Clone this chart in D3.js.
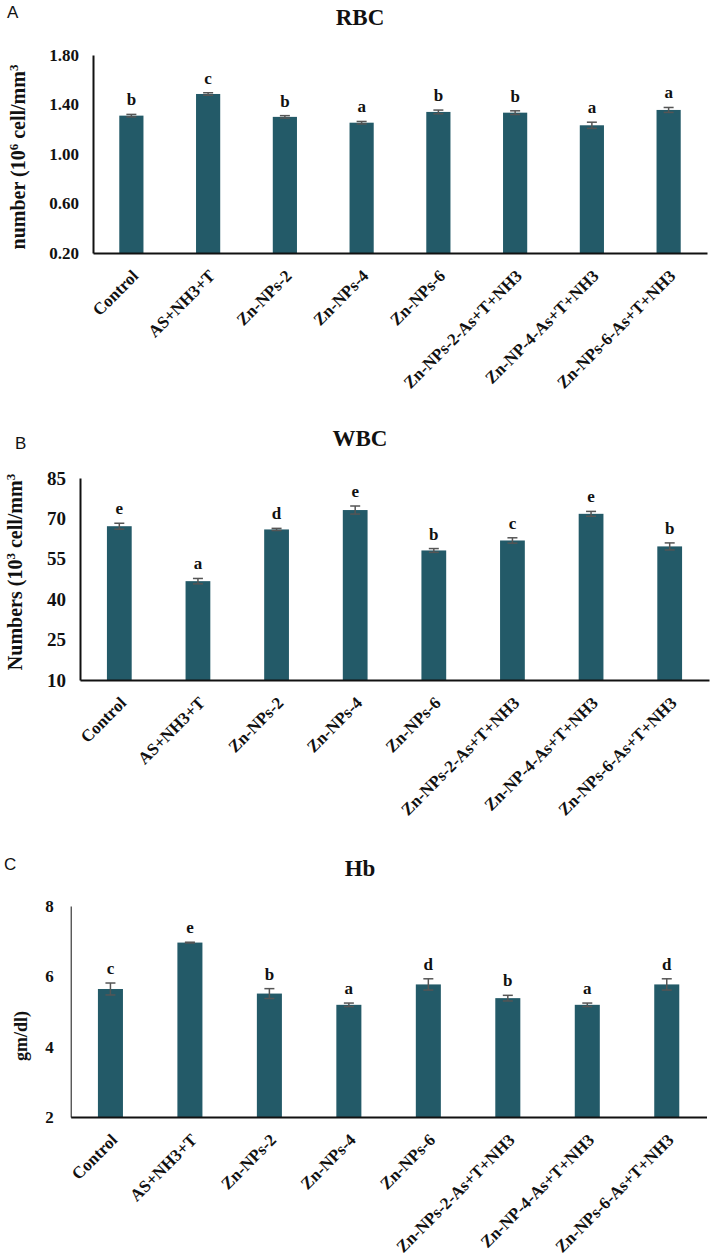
<!DOCTYPE html>
<html>
<head>
<meta charset="utf-8">
<script src="https://cdn.jsdelivr.net/npm/d3@7"></script>
<style>
  html, body { margin: 0; padding: 0; background: #fff; }
  svg { display: block; }
  .serif { font-family: "Liberation Serif", "Times New Roman", serif; font-weight: bold; }
</style>
</head>
<body>
<svg id="chart" width="712" height="1258"></svg>
<script>
const categories = ["Control", "AS+NH3+T", "Zn-NPs-2", "Zn-NPs-4", "Zn-NPs-6",
  "Zn-NPs-2-As+T+NH3", "Zn-NP-4-As+T+NH3", "Zn-NPs-6-As+T+NH3"];

const rbcMean = [1.31, 1.485, 1.30, 1.253, 1.34, 1.334, 1.232, 1.356];
const rbcErr = [0.01, 0.01, 0.01, 0.01, 0.015, 0.015, 0.025, 0.02];
const rbcLetters = ["b", "c", "b", "a", "b", "b", "a", "a"];
const rbcTicks = [0.20, 0.60, 1.00, 1.40, 1.80];

const wbcMean = [67.1, 46.7, 65.9, 73.1, 58.1, 61.8, 71.7, 59.6];
const wbcErr = [1.1, 1.0, 0.4, 1.5, 0.7, 1.0, 0.9, 1.3];
const wbcLetters = ["e", "a", "d", "e", "b", "c", "e", "b"];
const wbcTicks = [10, 25, 40, 55, 70, 85];

const hbMean = [5.64, 6.96, 5.51, 5.19, 5.77, 5.38, 5.19, 5.77];
const hbErr = [0.17, 0.01, 0.14, 0.05, 0.16, 0.08, 0.05, 0.16];
const hbLetters = ["c", "e", "b", "a", "d", "b", "a", "d"];
const hbTicks = [2, 4, 6, 8];

const svg = d3.select("#chart");
const barColor = "#235a68";
const errColor = "#555555";

function panel(cfg) {
  const g = svg.append("g");
  const x = d3.scaleBand().domain(categories)
    .range([cfg.x0, cfg.x1]).paddingInner(0.685).paddingOuter(0.3425);
  const y = d3.scaleLinear().domain(cfg.domain).range([cfg.yb, cfg.yt]);

  // panel letter
  g.append("text").attr("x", cfg.lx).attr("y", cfg.ly)
    .attr("font-family", "'Liberation Sans', Arial, sans-serif")
    .attr("font-size", 17).attr("fill", "#111").text(cfg.letter);

  // title
  g.append("text").attr("class", "serif").attr("x", 360).attr("y", cfg.ty)
    .attr("text-anchor", "middle").attr("font-size", 23).attr("fill", "#111")
    .text(cfg.title);

  // bars
  g.selectAll("rect.bar").data(cfg.mean).enter().append("rect")
    .attr("x", (d, i) => x(categories[i]))
    .attr("width", x.bandwidth())
    .attr("y", d => y(d))
    .attr("height", d => y(cfg.domain[0]) - y(d))
    .attr("fill", barColor);

  // error bars
  const eb = g.selectAll("g.err").data(cfg.mean).enter().append("g")
    .attr("stroke", errColor).attr("stroke-width", 1.5);
  eb.append("line")
    .attr("x1", (d, i) => x(categories[i]) + x.bandwidth() / 2)
    .attr("x2", (d, i) => x(categories[i]) + x.bandwidth() / 2)
    .attr("y1", (d, i) => y(d + cfg.err[i]))
    .attr("y2", (d, i) => y(d - cfg.err[i]));
  eb.append("line")
    .attr("x1", (d, i) => x(categories[i]) + x.bandwidth() / 2 - 5)
    .attr("x2", (d, i) => x(categories[i]) + x.bandwidth() / 2 + 5)
    .attr("y1", (d, i) => y(d + cfg.err[i]))
    .attr("y2", (d, i) => y(d + cfg.err[i]));
  eb.append("line")
    .attr("x1", (d, i) => x(categories[i]) + x.bandwidth() / 2 - 5)
    .attr("x2", (d, i) => x(categories[i]) + x.bandwidth() / 2 + 5)
    .attr("y1", (d, i) => y(d - cfg.err[i]))
    .attr("y2", (d, i) => y(d - cfg.err[i]));

  // significance letters
  g.selectAll("text.sig").data(cfg.letters).enter().append("text")
    .attr("class", "serif")
    .attr("x", (d, i) => x(categories[i]) + x.bandwidth() / 2)
    .attr("y", (d, i) => y(cfg.mean[i] + cfg.err[i]) - 9)
    .attr("text-anchor", "middle").attr("font-size", 17).attr("fill", "#111")
    .text(d => d);

  // y axis
  const yAxis = d3.axisLeft(y).tickValues(cfg.ticks).tickSize(0).tickPadding(cfg.tickPad)
    .tickFormat(cfg.fmt);
  const ya = g.append("g").attr("transform", `translate(${cfg.x0},0)`).call(yAxis);
  ya.select(".domain").attr("stroke", "#111").attr("stroke-width", cfg.yw);
  ya.selectAll("text").attr("class", "serif").attr("font-size", cfg.tickFs)
    .attr("fill", "#111");

  // x axis
  const xAxis = d3.axisBottom(x).tickSize(0).tickFormat(() => "");
  const xa = g.append("g").attr("transform", `translate(0,${cfg.yb})`).call(xAxis);
  xa.select(".domain").attr("stroke", "#111").attr("stroke-width", 2);

  // x labels rotated
  g.selectAll("text.xl").data(categories).enter().append("text")
    .attr("class", "serif")
    .attr("font-size", 17).attr("fill", "#111")
    .attr("text-anchor", "end")
    .attr("transform", d => `translate(${x(d) + x.bandwidth() / 2 + 8},${cfg.yb + 24}) rotate(-45)`)
    .text(d => d);

  // y title
  const yt = g.append("text").attr("class", "serif")
    .attr("text-anchor", "middle").attr("font-size", cfg.ytFs).attr("fill", "#111")
    .attr("transform", `translate(${cfg.ytx},${cfg.yty}) rotate(-90)`);
  cfg.ytitle.forEach(p => {
    const t = yt.append("tspan").text(p.t);
    if (p.sup) t.attr("baseline-shift", "super").attr("font-size", cfg.ytFs * 0.65);
  });
}

panel({
  letter: "A", lx: 7, ly: 18, title: "RBC", ty: 25,
  x0: 93, x1: 707, yt: 55, yb: 253, domain: [0.2, 1.8],
  mean: rbcMean, err: rbcErr, letters: rbcLetters, ticks: rbcTicks,
  fmt: d3.format(".2f"), tickFs: 17, tickPad: 14, yw: 2,
  ytitle: [{t: "number (10"}, {t: "6", sup: true}, {t: " cell/mm"}, {t: "3", sup: true}],
  ytFs: 20, ytx: 25, yty: 157
});

panel({
  letter: "B", lx: 15, ly: 449, title: "WBC", ty: 446,
  x0: 80, x1: 709, yt: 478, yb: 680, domain: [10, 85],
  mean: wbcMean, err: wbcErr, letters: wbcLetters, ticks: wbcTicks,
  fmt: d3.format("d"), tickFs: 19, tickPad: 14, yw: 2,
  ytitle: [{t: "Numbers (10"}, {t: "3", sup: true}, {t: " cell/mm"}, {t: "3", sup: true}],
  ytFs: 20, ytx: 22, yty: 572
});

panel({
  letter: "C", lx: 4, ly: 870, title: "Hb", ty: 876,
  x0: 70.7, x1: 706.5, yt: 906, yb: 1117, domain: [2, 8],
  mean: hbMean, err: hbErr, letters: hbLetters, ticks: hbTicks,
  fmt: d3.format("d"), tickFs: 17, tickPad: 17, yw: 1,
  ytitle: [{t: "gm/dl)"}],
  ytFs: 18, ytx: 27, yty: 1036
});
</script>
</body>
</html>
